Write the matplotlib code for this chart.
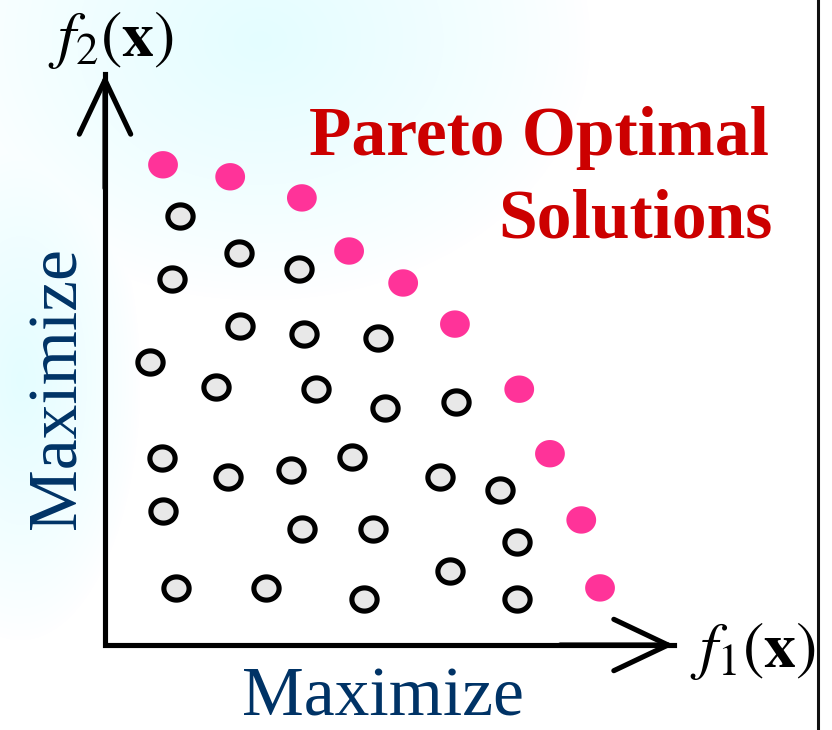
import numpy as np
import matplotlib
matplotlib.use("Agg")
import matplotlib.pyplot as plt
from matplotlib.path import Path

plt.rcParams['mathtext.fontset'] = 'stix'

# ---- data (arbitrary objective units) ----
pareto_f1 = [1.02, 2.20, 3.46, 4.29, 5.24, 6.15, 7.28, 7.82, 8.37, 8.70]
pareto_f2 = [8.41, 8.20, 7.83, 6.90, 6.34, 5.62, 4.48, 3.35, 2.19, 1.00]

other_f1 = [1.32, 2.35, 3.41, 1.18, 2.37, 3.50, 4.80, 0.79, 1.95, 3.71, 4.92, 6.17,
            1.00, 2.16, 3.27, 4.34, 5.89, 6.94, 1.02, 3.46, 4.71, 7.24, 1.25, 2.83,
            4.55, 6.06, 7.24]
other_f2 = [7.51, 6.87, 6.58, 6.41, 5.59, 5.45, 5.38, 4.96, 4.52, 4.48, 4.15, 4.26,
            3.27, 2.94, 3.06, 3.29, 2.94, 2.71, 2.35, 2.03, 2.03, 1.80, 1.00, 1.00,
            0.81, 1.30, 0.81]

axis_len = 10.0
title_lines = ["Pareto Optimal", "Solutions"]
xlabel_math = r'$f_1(\mathbf{x})$'
ylabel_math = r'$f_2(\mathbf{x})$'
dir_label = "Maximize"

W, H = 832, 730
fig = plt.figure(figsize=(W / 100, H / 100), dpi=100)
fig.patch.set_facecolor('white')

# subtle light-cyan background wash
bg = fig.add_axes([0, 0, 1, 1], zorder=0)
yy, xx = np.mgrid[0:H, 0:W]
d1 = np.sqrt(((xx - 260) / 330.0) ** 2 + ((yy - 40) / 260.0) ** 2)
d2 = np.sqrt(((xx - 20) / 120.0) ** 2 + ((yy - 380) / 260.0) ** 2)
inten = np.clip(np.maximum(1 - d1, 1 - d2), 0, 1) ** 0.8 * 0.75
img = np.ones((H, W, 3))
cyan = np.array([0.86, 0.99, 1.0])
img = img * (1 - inten[..., None]) + cyan * inten[..., None]
bg.imshow(img, aspect='auto', interpolation='bilinear')
bg.set_axis_off()

ax = fig.add_axes([0, 0, 1, 1], zorder=1)
ax.patch.set_alpha(0)
sx = 56.9
sy = 57.1
ax.set_xlim(-105 / sx, (W - 105) / sx)
ax.set_ylim((645 - H) / sy, 645 / sy)
ax.set_axis_off()

# ellipse marker (slightly wider than tall)
t = np.linspace(0, 2 * np.pi, 60)
ell = Path(np.column_stack([np.cos(t), 0.92 * np.sin(t)]), closed=True)

lw_ax = 3.7
ax.plot([0, 0, axis_len], [axis_len, 0, 0], color='black', lw=lw_ax,
        solid_joinstyle='miter', solid_capstyle='projecting', zorder=2)
arrow_kw = dict(arrowstyle='->,head_length=3.9,head_width=1.85', lw=lw_ax,
                color='black', shrinkA=0, shrinkB=0, mutation_scale=10,
                joinstyle='round', capstyle='round')
ax.annotate('', xy=(axis_len, 0), xytext=(axis_len - 2, 0), arrowprops=arrow_kw)
ax.annotate('', xy=(0, axis_len), xytext=(0, axis_len - 2), arrowprops=arrow_kw)

ax.scatter(other_f1, other_f2, s=330, marker=ell, facecolor='#e8e8e8',
           edgecolor='black', linewidths=3.7, zorder=3)
ax.scatter(pareto_f1, pareto_f2, s=460, marker=ell, facecolor='#ff3399',
           edgecolor='none', zorder=3)

# texts
fig.text(111 / W, 1 - 40 / H, ylabel_math, fontsize=46, ha='center', va='center',
         color='black')
fig.text(753 / W, 1 - 651 / H, xlabel_math, fontsize=46, ha='center', va='center',
         color='black')

serif = ['Liberation Serif', 'DejaVu Serif']
fig.text(769 / W, 1 - 155 / H, title_lines[0], fontsize=50, fontweight='bold',
         family=serif, color='#cc0000', ha='right', va='baseline')
fig.text(773 / W, 1 - 238 / H, title_lines[1], fontsize=50, fontweight='bold',
         family=serif, color='#cc0000', ha='right', va='baseline')

navy = '#003366'
fig.text(383 / W, 1 - 715 / H, dir_label, fontsize=50, family=serif, color=navy,
         ha='center', va='baseline')
fig.text(75 / W, 1 - 388 / H, dir_label, fontsize=50, family=serif, color=navy,
         ha='center', va='baseline', rotation=90, rotation_mode='anchor')

# right border line
fig.add_artist(plt.Line2D([818 / W, 818 / W], [0, 1], transform=fig.transFigure,
                          color='#111111', lw=2.2))

fig.savefig('out.png', dpi=100, facecolor='white')
